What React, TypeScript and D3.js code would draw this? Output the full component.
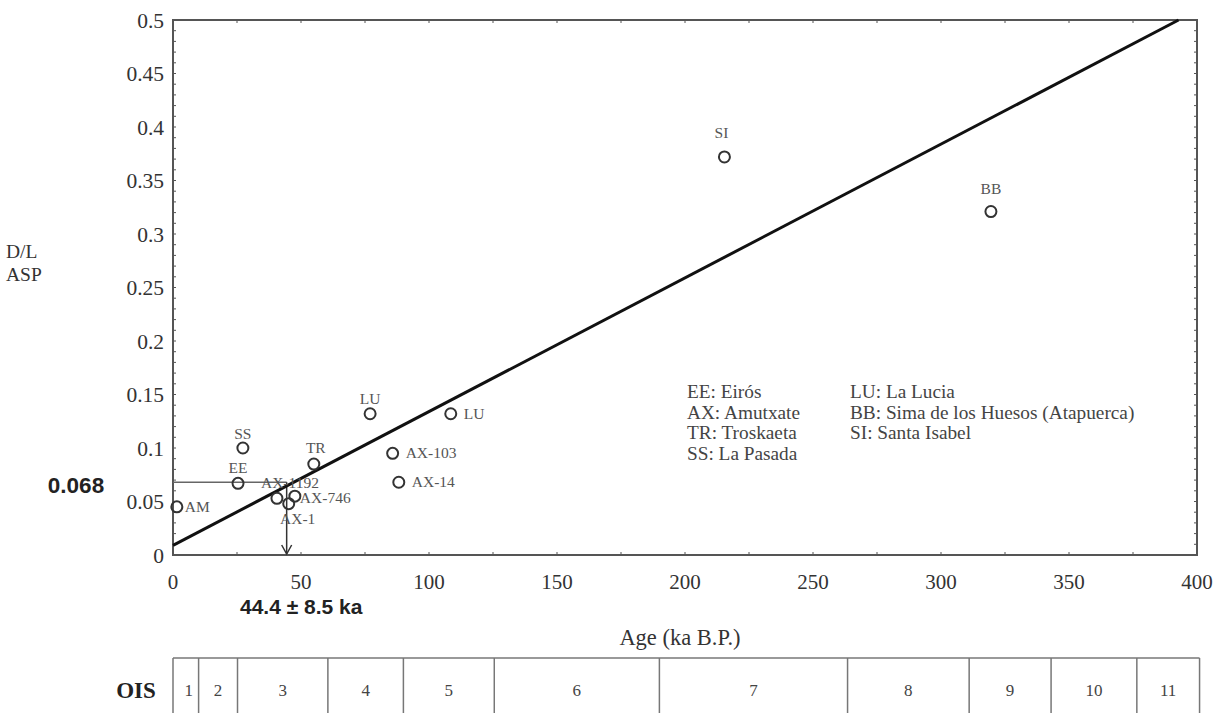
import React from "react";
import * as d3 from "d3";

// ---- data ----
const AGE_TICKS = [0, 50, 100, 150, 200, 250, 300, 350, 400];
const DL_TICKS = [0, 0.05, 0.1, 0.15, 0.2, 0.25, 0.3, 0.35, 0.4, 0.45, 0.5];
const SITE_NAMES = ["AM", "EE", "SS", "AX-1192", "AX-1", "AX-746", "TR", "LU", "LU", "AX-103", "AX-14", "SI", "BB"];
const SITE_AGES = [1.5, 25.4, 27.3, 40.6, 45.2, 47.6, 55, 77, 108.5, 85.8, 88.2, 215.4, 319.5];
const SITE_DL = [0.045, 0.067, 0.1, 0.053, 0.048, 0.055, 0.085, 0.132, 0.132, 0.095, 0.068, 0.372, 0.321];
const REG_INTERCEPT = 0.009;
const REG_SLOPE = 0.00125;
const EST_DL = 0.068;
const EST_AGE = 44.4;
const OIS_STAGES = ["1", "2", "3", "4", "5", "6", "7", "8", "9", "10", "11"];
const OIS_BOUNDS = [0, 10, 25.2, 60.5, 90, 125.5, 190, 263.5, 311, 343, 376.5, 401];
const LEGEND_COL1 = ["EE: Eirós", "AX: Amutxate", "TR: Troskaeta", "SS: La Pasada"];
const LEGEND_COL2 = ["LU: La Lucia", "BB: Sima de los Huesos (Atapuerca)", "SI: Santa Isabel"];

// label placement: [dx, dy, anchor]
const LABEL_PLACE: [number, number, string][] = [
  [8, 0, "start"],
  [0, -15, "middle"],
  [0, -14, "middle"],
  [13, -15, "middle"],
  [9, 15, "middle"],
  [5, 2, "start"],
  [2, -16, "middle"],
  [0, -15, "middle"],
  [13, 0, "start"],
  [13, 0, "start"],
  [13, 0, "start"],
  [-3, -24, "middle"],
  [0, -23, "middle"],
];

const W = 1219;
const H = 713;
const SERIF = "'Liberation Serif', 'Times New Roman', serif";
const SANS = "'Liberation Sans', Arial, sans-serif";

export default function App() {
  const x = d3.scaleLinear().domain([0, 400]).range([173, 1197]);
  const y = d3.scaleLinear().domain([0, 0.5]).range([555, 20]);
  const axisColor = "#555";

  const minorY = d3.range(0, 0.5001, 0.01);
  const minorX = d3.range(0, 400.01, 25);

  const regEnd = (0.5 - REG_INTERCEPT) / REG_SLOPE;
  const regLine = d3.line<number>()
    .x((a) => x(a))
    .y((a) => y(REG_INTERCEPT + REG_SLOPE * a));

  const fmt = (v: number) => (v === 0 ? "0" : String(+v.toFixed(2)));

  const tableTop = 658;
  const tableBottom = 730;

  return (
    <svg width={W} height={H} style={{ position: "absolute", left: 0, top: 0, background: "#fff" }}>
      <rect width={W} height={H} fill="#fff" />
      {/* minor ticks */}
      {minorY.map((v, i) => (
        <g key={"my" + i}>
          <line x1={x(0)} x2={x(0) + 3} y1={y(v)} y2={y(v)} stroke={axisColor} strokeWidth={1} />
          <line x1={x(400)} x2={x(400) - 3} y1={y(v)} y2={y(v)} stroke={axisColor} strokeWidth={1} />
        </g>
      ))}
      {minorX.map((v, i) => (
        <g key={"mx" + i}>
          <line x1={x(v)} x2={x(v)} y1={y(0)} y2={y(0) - 3} stroke={axisColor} strokeWidth={1} />
          <line x1={x(v)} x2={x(v)} y1={y(0.5)} y2={y(0.5) + 3} stroke={axisColor} strokeWidth={1} />
        </g>
      ))}
      {/* frame */}
      <rect x={x(0)} y={y(0.5)} width={x(400) - x(0)} height={y(0) - y(0.5)} fill="none" stroke={axisColor} strokeWidth={2} />

      {/* y tick labels */}
      {DL_TICKS.map((v, i) => (
        <text key={"yt" + i} x={164} y={y(v) + 7.5} textAnchor="end" fontFamily={SERIF} fontSize={21.5} fill="#333">
          {fmt(v)}
        </text>
      ))}
      {/* x tick labels */}
      {AGE_TICKS.map((v, i) => (
        <text key={"xt" + i} x={x(v)} y={589} textAnchor="middle" fontFamily={SERIF} fontSize={21} fill="#333">
          {v}
        </text>
      ))}

      {/* axis titles */}
      <text x={6} y={258} fontFamily={SERIF} fontSize={19.5} fill="#333">D/L</text>
      <text x={6} y={281} fontFamily={SERIF} fontSize={19.5} fill="#333">ASP</text>
      <text x={680} y={645} textAnchor="middle" fontFamily={SERIF} fontSize={22.5} fill="#333">Age (ka B.P.)</text>

      {/* estimate guides */}
      <line x1={x(0)} x2={x(EST_AGE)} y1={y(EST_DL)} y2={y(EST_DL)} stroke="#666" strokeWidth={1.5} />
      <line x1={x(EST_AGE)} x2={x(EST_AGE)} y1={y(EST_DL)} y2={y(0) - 1} stroke="#333" strokeWidth={1.5} />
      <path
        d={`M${x(EST_AGE) - 5},${y(0) - 10} L${x(EST_AGE)},${y(0) - 1} L${x(EST_AGE) + 5},${y(0) - 10}`}
        fill="none"
        stroke="#333"
        strokeWidth={1.5}
      />
      <text x={76} y={493} textAnchor="middle" fontFamily={SANS} fontWeight="bold" fontSize={22.5} fill="#222">
        {EST_DL.toFixed(3)}
      </text>
      <text x={240} y={614} fontFamily={SANS} fontWeight="bold" fontSize={21} fill="#222">
        {`${EST_AGE} ± 8.5 ka`}
      </text>

      {/* regression line */}
      <path d={regLine([0, regEnd]) || ""} fill="none" stroke="#111" strokeWidth={3} />

      {/* points */}
      {SITE_AGES.map((a, i) => (
        <circle key={"p" + i} cx={x(a)} cy={y(SITE_DL[i])} r={5.5} fill="none" stroke="#333" strokeWidth={2} />
      ))}
      {SITE_AGES.map((a, i) => {
        const [dx, dy, anchor] = LABEL_PLACE[i];
        return (
          <text
            key={"l" + i}
            x={x(a) + dx}
            y={y(SITE_DL[i]) + dy + 5}
            textAnchor={anchor as any}
            fontFamily={SERIF}
            fontSize={15.5}
            fill="#555"
          >
            {SITE_NAMES[i]}
          </text>
        );
      })}

      {/* legend */}
      {LEGEND_COL1.map((t, i) => (
        <text key={"lg1" + i} x={687} y={398 + i * 20.7} fontFamily={SERIF} fontSize={19.3} fill="#444">
          {t}
        </text>
      ))}
      {LEGEND_COL2.map((t, i) => (
        <text key={"lg2" + i} x={850} y={398 + i * 20.7} fontFamily={SERIF} fontSize={19.3} fill="#444">
          {t}
        </text>
      ))}

      {/* OIS table */}
      <text x={136} y={698} textAnchor="middle" fontFamily={SERIF} fontWeight="bold" fontSize={23} fill="#222">OIS</text>
      <line x1={x(OIS_BOUNDS[0])} x2={x(OIS_BOUNDS[OIS_BOUNDS.length - 1])} y1={tableTop} y2={tableTop} stroke="#777" strokeWidth={1.5} />
      {OIS_BOUNDS.map((b, i) => (
        <line key={"ob" + i} x1={x(b)} x2={x(b)} y1={tableTop} y2={tableBottom} stroke="#777" strokeWidth={1.5} />
      ))}
      {OIS_STAGES.map((s, i) => (
        <text
          key={"os" + i}
          x={(x(OIS_BOUNDS[i]) + x(OIS_BOUNDS[i + 1])) / 2 + (i === 0 ? 3 : 0)}
          y={696}
          textAnchor="middle"
          fontFamily={SERIF}
          fontSize={17}
          fill="#444"
        >
          {s}
        </text>
      ))}
    </svg>
  );
}
